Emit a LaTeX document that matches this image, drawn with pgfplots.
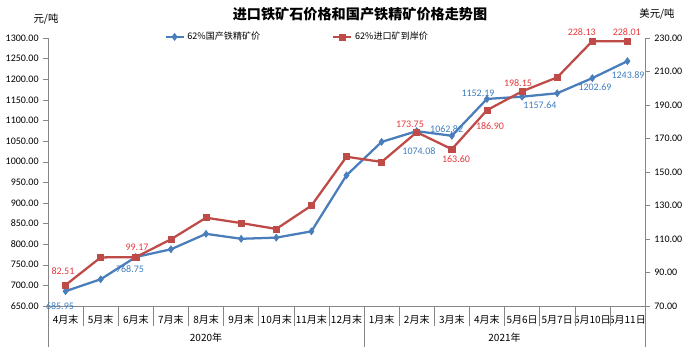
\documentclass[border=0pt]{standalone}
\usepackage{pgfplots}
\usepackage{pgfplotstable}
\pgfplotsset{compat=1.18}
\usepackage{fontspec}
\setmainfont{Carlito}
\newfontfamily\cjk{Noto Sans CJK SC}
\definecolor{bl}{HTML}{4A7EBB}
\definecolor{rd}{HTML}{BE4B48}
\definecolor{bllab}{HTML}{3D7DC0}
\definecolor{rdlab}{HTML}{E5383B}
\definecolor{axgray}{HTML}{868686}

\pgfplotstableread{
x dom imp
0 685.95 82.51
1 714.8 99.0
2 768.75 99.17
3 787.5 109.8
4 825 122.7
5 813 119.5
6 815.8 116
7 831 129.9
8 967 159.1
9 1048 156
10 1074.08 173.75
11 1062.82 163.60
12 1152.19 186.90
13 1157.64 198.15
14 1166 206.5
15 1202.69 228.13
16 1243.89 228.01
}\data

\newcommand{\lf}{\fontsize{7.5}{9}\selectfont}

\pgfplotsset{
  common/.style={
    width=447.75pt, height=201pt, scale only axis,
    at={(0pt,0pt)}, anchor=south west,
    xmin=-0.5, xmax=16.5, clip=false,
    axis line style={-, axgray},
    tick style={axgray},
    tick align=outside,
    major tick length=3.5pt,
    ticklabel style={font=\lf, text=black},
    yticklabel style={/pgf/number format/.cd, fixed, fixed zerofill, precision=2, 1000 sep={}, assume math mode=true},
    scaled y ticks=false,
  }
}

\begin{document}
\begin{tikzpicture}
\path[use as bounding box] (-36pt,-34.5pt) rectangle (486.75pt,229.5pt);

% left axis
\begin{axis}[common,
  axis x line*=bottom, axis y line*=left,
  ymin=650, ymax=1300, ytick={650,700,...,1300},
  xtick={0,...,16},
  xticklabels={4月末,5月末,6月末,7月末,8月末,9月末,10月末,11月末,12月末,1月末,2月末,3月末,4月末,5月6日,5月7日,5月10日,5月11日},
  xticklabel style={font=\cjk\lf},
  x tick style={draw=none},
  legend style={at={(rel axis cs:0.418,1.004)}, anchor=center, draw=none, fill=none,
    font=\cjk\fontsize{6.8}{8}\selectfont, legend columns=2,
    /tikz/every even column/.append style={column sep=52pt}},
  legend cell align=left,
  legend image code/.code={\draw[mark repeat=2,mark phase=2] plot coordinates {(0pt,0pt) (6.75pt,0pt) (13.5pt,0pt)};},
]
\addplot[bl, line width=1.7pt, mark=diamond*, mark size=2.6pt, mark options={fill=bl, line width=0.5pt}] table[x=x, y=dom] {\data};
\addlegendentry{62\%国产铁精矿价}
\addlegendimage{rd, line width=1.7pt, mark=square*, mark size=2.3pt, mark options={fill=rd, line width=0.5pt}}
\addlegendentry{62\%进口矿到岸价}

\pgfplotsinvokeforeach{0.5,1.5,2.5,3.5,4.5,5.5,6.5,7.5,9.5,10.5,11.5,12.5,13.5,14.5,15.5}{
  \draw[axgray] (axis cs:#1,650) -- ++(0pt,-15pt);
}
\draw[axgray] (axis cs:-0.5,650) -- ++(0pt,-30.75pt);
\draw[axgray] (axis cs:8.5,650) -- ++(0pt,-30.75pt);
\draw[axgray] (axis cs:16.5,650) -- ++(0pt,-30.75pt);
\node[font=\cjk\lf] at (axis cs:4,650) [yshift=-24pt] {2020年};
\node[font=\cjk\lf] at (axis cs:12.5,650) [yshift=-24pt] {2021年};

\begin{scope}[font=\lf, text=bllab]
\node at (axis cs:0,685.95) [xshift=-4.2pt, yshift=-11.1pt] {685.95};
\node at (axis cs:2,768.75) [xshift=-4.35pt, yshift=-8.9pt] {768.75};
\node at (axis cs:10,1074.08) [xshift=1.65pt, yshift=-15.3pt] {1074.08};
\node at (axis cs:11,1062.82) [xshift=-3.9pt, yshift=5.25pt] {1062.82};
\node at (axis cs:12,1152.19) [xshift=-6.75pt, yshift=4.6pt] {1152.19};
\node at (axis cs:13,1157.64) [xshift=13.4pt, yshift=-6.15pt] {1157.64};
\node at (axis cs:15,1202.69) [xshift=2pt, yshift=-7pt] {1202.69};
\node at (axis cs:16,1243.89) [xshift=0.45pt, yshift=-10.3pt] {1243.89};
\end{scope}
\end{axis}

% right axis
\begin{axis}[common,
  axis x line=none, axis y line*=right,
  ymin=70, ymax=230, ytick={70,90,...,230},
]
\addplot[rd, line width=1.7pt, mark=square*, mark size=2.3pt, mark options={fill=rd, line width=0.5pt}] table[x=x, y=imp] {\data};
\begin{scope}[font=\lf, text=rdlab]
\node at (axis cs:0,82.51) [xshift=-1.95pt, yshift=10.5pt] {82.51};
\node at (axis cs:2,99.17) [xshift=0.9pt, yshift=7.6pt] {99.17};
\node at (axis cs:10,173.75) [xshift=-5.1pt, yshift=6.15pt] {173.75};
\node at (axis cs:11,163.60) [xshift=3.1pt, yshift=-7.35pt] {163.60};
\node at (axis cs:12,186.90) [xshift=2.25pt, yshift=-11.85pt] {186.90};
\node at (axis cs:13,198.15) [xshift=-3.1pt, yshift=6pt] {198.15};
\node at (axis cs:15,228.13) [xshift=-7.95pt, yshift=6.6pt] {228.13};
\node at (axis cs:16,228.01) [xshift=-0.5pt, yshift=6.75pt] {228.01};
\end{scope}
\end{axis}

% titles (pixel coordinates of the reference)
\begin{scope}[x=0.75pt, y=-0.75pt, shift={(-36pt,229.5pt)}]
\node[font=\cjk\bfseries\fontsize{10.6}{12}\selectfont] at (360,14) {进口铁矿石价格和国产铁精矿价格走势图};
\node[font=\cjk\fontsize{7.8}{9}\selectfont] at (46,19) {元/吨};
\node[font=\cjk\fontsize{7.8}{9}\selectfont] at (657,14) {美元/吨};
\end{scope}
\end{tikzpicture}
\end{document}
